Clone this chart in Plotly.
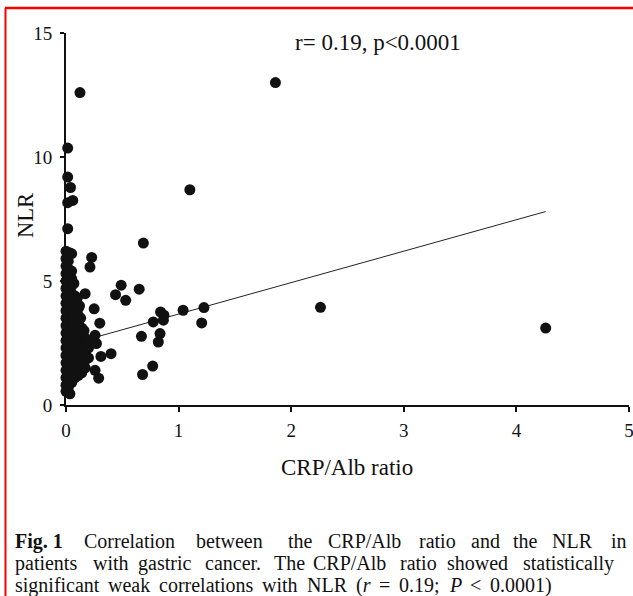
import plotly.graph_objects as go

# ---- data ----
# dense cluster near CRP/Alb ~ 0
cluster_x = [
    0.00, 0.00, 0.00, 0.00, 0.00, 0.00, 0.00, 0.00, 0.00, 0.00,
    0.00, 0.00, 0.00, 0.00, 0.00, 0.00, 0.00, 0.00, 0.00, 0.00,
    0.02, 0.02, 0.02, 0.02, 0.02, 0.02, 0.02, 0.02, 0.02, 0.02,
    0.02, 0.02, 0.02, 0.02, 0.02, 0.02, 0.02, 0.02,
    0.05, 0.05, 0.05, 0.05, 0.05, 0.05, 0.05, 0.05, 0.05, 0.05,
    0.05, 0.05, 0.05, 0.05, 0.05, 0.05,
    0.08, 0.08, 0.08, 0.08, 0.08, 0.08, 0.08, 0.08, 0.08, 0.08,
    0.08, 0.08, 0.07,
    0.11, 0.11, 0.11, 0.11, 0.11, 0.11, 0.11, 0.11, 0.11, 0.11, 0.10,
    0.14, 0.14, 0.14, 0.14, 0.14, 0.14, 0.14, 0.13, 0.12,
    0.17, 0.17, 0.17, 0.17, 0.17, 0.16,
    0.20, 0.20, 0.19,
]
cluster_y = [
    0.55, 0.80, 1.10, 1.40, 1.70, 2.00, 2.30, 2.60, 2.90, 3.20,
    3.50, 3.80, 4.10, 4.40, 4.70, 5.00, 5.30, 5.60, 5.90, 6.20,
    0.70, 1.00, 1.30, 1.60, 1.90, 2.20, 2.50, 2.80, 3.10, 3.40,
    3.70, 4.00, 4.30, 4.60, 4.90, 5.20, 5.50, 5.80,
    0.90, 1.20, 1.50, 1.80, 2.10, 2.40, 2.70, 3.00, 3.30, 3.60,
    3.90, 4.20, 4.50, 4.80, 5.10, 5.40,
    1.10, 1.40, 1.70, 2.00, 2.30, 2.60, 2.90, 3.20, 3.50, 3.80,
    4.10, 4.40, 4.90,
    1.20, 1.50, 1.80, 2.10, 2.40, 2.70, 3.00, 3.30, 3.60, 3.90, 4.30,
    1.30, 1.60, 1.90, 2.20, 2.50, 2.80, 3.10, 3.50, 4.00,
    1.50, 1.80, 2.10, 2.40, 2.70, 3.00,
    1.90, 2.30, 2.60,
]
# individually visible points
single_x = [0.015, 0.015, 0.04, 0.015, 0.06, 0.015, 0.03, 0.05, 0.124, 1.86,
            1.10, 0.687, 0.228, 0.213, 0.49, 0.44, 0.53, 0.65, 0.17, 0.25,
            0.30, 0.258, 0.27, 0.40, 0.31, 0.258, 0.29, 0.67, 0.68, 0.77,
            0.775, 0.84, 0.865, 0.87, 0.835, 0.82, 1.04, 1.225, 1.205, 2.26,
            4.26, 0.035]
single_y = [10.36, 9.19, 8.77, 8.16, 8.25, 7.11, 6.14, 6.10, 12.60, 13.00,
            8.68, 6.53, 5.95, 5.56, 4.83, 4.45, 4.22, 4.67, 4.49, 3.88,
            3.30, 2.81, 2.48, 2.07, 1.96, 1.40, 1.08, 2.77, 1.23, 1.57,
            3.35, 3.75, 3.42, 3.62, 2.88, 2.54, 3.82, 3.93, 3.31, 3.94,
            3.10, 0.45]
# regression line end points
reg_x = [0.0, 4.26]
reg_y = [2.40, 7.80]

x_ticks = [0, 1, 2, 3, 4, 5]
y_ticks = [0, 5, 10, 15]

stat_text = "r= 0.19, p<0.0001"
x_title = "CRP/Alb ratio"
y_title = "NLR"
# caption words with their left edge (pixels) as laid out in the figure caption
caption_line1 = [("<b>Fig. 1</b>", 14), ("Correlation", 83), ("between", 195), ("the", 287),
                 ("CRP/Alb", 327), ("ratio", 418), ("and", 470), ("the", 512),
                 ("NLR", 551), ("in", 610)]
caption_line2 = [("patients", 14), ("with", 92), ("gastric", 137), ("cancer.", 204),
                 ("The", 273), ("CRP/Alb", 312), ("ratio", 399), ("showed", 446),
                 ("statistically", 522)]
caption_line3 = [("significant", 14), ("weak", 107), ("correlations", 158), ("with", 261),
                 ("NLR", 306), ("(<i>r</i>", 355), ("=", 378), ("0.19;", 398),
                 ("<i>P</i>", 448), ("&lt;", 469), ("0.0001)", 489)]

# ---- geometry helpers (pixel -> paper) ----
W, H = 633, 596
L, R, T, B = 66, 4, 33, 191
PW, PH = W - L - R, H - T - B

def px(xp):
    return (xp - L) / PW

def py(yp):
    return (H - B - yp) / PH

SERIF = "Liberation Serif, Times New Roman, serif"
INK = "#111"
CAP = 20

fig = go.Figure()
fig.add_trace(go.Scatter(x=reg_x, y=reg_y, mode="lines",
                         line=dict(color="#222", width=1), showlegend=False,
                         hoverinfo="skip"))
fig.add_trace(go.Scatter(x=cluster_x + single_x, y=cluster_y + single_y,
                         mode="markers", cliponaxis=False,
                         marker=dict(color=INK, size=11, line=dict(width=0)),
                         showlegend=False))

fig.update_xaxes(range=[0, 5], tickvals=x_ticks, ticks="outside", ticklen=5,
                 tickwidth=1.5, tickcolor=INK, showline=True, linecolor=INK,
                 linewidth=2, showgrid=False, zeroline=False, automargin=False,
                 tickfont=dict(family=SERIF, size=19, color=INK),
                 ticklabelstandoff=2, ticklabeloverflow="allow")
fig.update_yaxes(range=[0, 15], tickvals=y_ticks, ticks="outside", ticklen=4,
                 tickwidth=1.5, tickcolor=INK, showline=True, linecolor=INK,
                 linewidth=2, showgrid=False, zeroline=False, automargin=False,
                 tickfont=dict(family=SERIF, size=19, color=INK),
                 ticklabelstandoff=4)

ann = []
ann.append(dict(text=stat_text, x=px(293), y=py(43), xref="paper", yref="paper",
                xanchor="left", yanchor="middle", showarrow=False,
                font=dict(family=SERIF, size=23, color=INK)))
ann.append(dict(text=x_title, x=px(347), y=py(467), xref="paper", yref="paper",
                xanchor="center", yanchor="middle", showarrow=False,
                font=dict(family=SERIF, size=23, color=INK)))
ann.append(dict(text=y_title, x=px(25), y=py(216), xref="paper", yref="paper",
                xanchor="center", yanchor="middle", showarrow=False, textangle=-90,
                font=dict(family=SERIF, size=22.5, color=INK)))
for words, yp in ((caption_line1, 541), (caption_line2, 563), (caption_line3, 585)):
    for word, xp in words:
        ann.append(dict(text=word, x=px(xp), y=py(yp), xref="paper", yref="paper",
                        xanchor="left", yanchor="middle", showarrow=False,
                        borderpad=0,
                        font=dict(family=SERIF, size=CAP, color=INK)))

shapes = [
    dict(type="line", xref="paper", yref="paper", x0=px(5), x1=px(633),
         y0=py(8), y1=py(8), line=dict(color="red", width=2.5)),
    dict(type="line", xref="paper", yref="paper", x0=px(5.5), x1=px(5.5),
         y0=py(8), y1=py(596), line=dict(color="red", width=2)),
]

fig.update_layout(width=W, height=H, margin=dict(l=L, r=R, t=T, b=B),
                  paper_bgcolor="white", plot_bgcolor="white",
                  annotations=ann, shapes=shapes)
fig.write_html("out.html")
